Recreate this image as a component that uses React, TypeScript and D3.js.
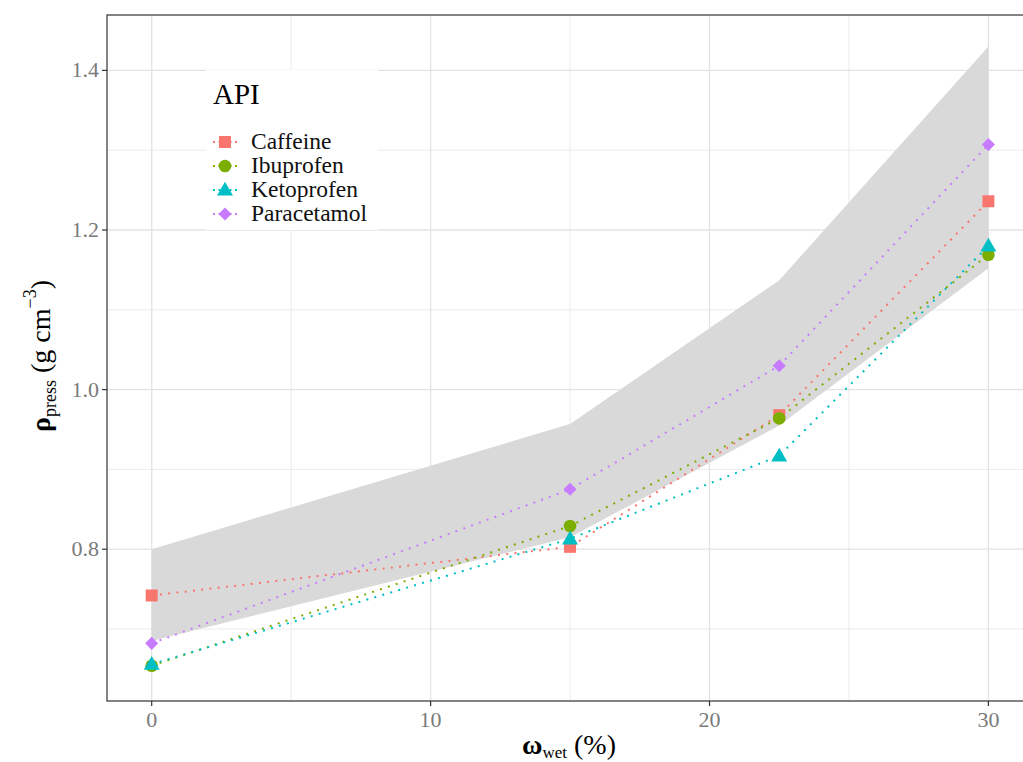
import React from "react";
import * as d3 from "d3";

const apis = ["Caffeine", "Ibuprofen", "Ketoprofen", "Paracetamol"];
const colors = ["#F8766D", "#7CAE00", "#00BFC4", "#C77CFF"];
const wet = [0, 15, 22.5, 30];
const caffeine = [0.742, 0.803, 0.968, 1.236];
const ibuprofen = [0.654, 0.829, 0.964, 1.169];
const ketoprofen = [0.656, 0.813, 0.917, 1.180];
const paracetamol = [0.682, 0.875, 1.030, 1.307];
const ribbonUpper = [0.800, 0.957, 1.137, 1.430];
const ribbonLower = [0.685, 0.815, 0.955, 1.152];
const xTicks = [0, 10, 20, 30];
const xMinor = [5, 15, 25];
const yTicks = [0.8, 1.0, 1.2, 1.4];
const yMinor = [0.7, 0.9, 1.1, 1.3];

const seriesValues = [caffeine, ibuprofen, ketoprofen, paracetamol];

const W = 1023;
const H = 762;
const left = 107;
const top = 15;
const bottom = 701;
const right = 1030;

const x = d3.scaleLinear().domain([0, 30]).range([151.7, 988.4]);
const y = d3.scaleLinear().domain([0.8, 1.2]).range([549.2, 230.0]);

const FONT = "'Liberation Serif', 'DejaVu Serif', serif";

function shapePath(i: number): { d: string; rot: number } {
  if (i === 0) return { d: d3.symbol().type(d3.symbolSquare).size(144)()!, rot: 0 };
  if (i === 1) return { d: d3.symbol().type(d3.symbolCircle).size(125)()!, rot: 0 };
  if (i === 2) return { d: d3.symbol().type(d3.symbolTriangle).size(110)()!, rot: 0 };
  return { d: d3.symbol().type(d3.symbolSquare).size(85)()!, rot: 45 };
}

export default function App() {
  const area = d3
    .area<number>()
    .x((_, i) => x(wet[i]))
    .y0((_, i) => y(ribbonLower[i]))
    .y1((d) => y(d));
  const line = d3
    .line<number>()
    .x((_, i) => x(wet[i]))
    .y((d) => y(d));

  const legendY = [142, 166, 190, 214];

  return (
    <svg
      width={W}
      height={H}
      style={{ position: "absolute", left: 0, top: 0, background: "#fff" }}
    >
      <defs>
        <clipPath id="panel">
          <rect x={left} y={top} width={right - left} height={bottom - top} />
        </clipPath>
      </defs>
      <rect x={0} y={0} width={W} height={H} fill="#fff" />
      {/* grid */}
      <g clipPath="url(#panel)">
        {yMinor.map((v) => (
          <line key={"ym" + v} x1={left} x2={right} y1={y(v)} y2={y(v)} stroke="#ebebeb" strokeWidth={1} />
        ))}
        {xMinor.map((v) => (
          <line key={"xm" + v} x1={x(v)} x2={x(v)} y1={top} y2={bottom} stroke="#ebebeb" strokeWidth={1} />
        ))}
        {yTicks.map((v) => (
          <line key={"y" + v} x1={left} x2={right} y1={y(v)} y2={y(v)} stroke="#e3e3e3" strokeWidth={1.3} />
        ))}
        {xTicks.map((v) => (
          <line key={"x" + v} x1={x(v)} x2={x(v)} y1={top} y2={bottom} stroke="#e3e3e3" strokeWidth={1.3} />
        ))}
        <path d={area(ribbonUpper)!} fill="#d9d9d9" />
        {seriesValues.map((vals, i) => (
          <path
            key={"l" + i}
            d={line(vals)!}
            fill="none"
            stroke={colors[i]}
            strokeWidth={2}
            strokeDasharray="2 6.3"
          />
        ))}
        {seriesValues.map((vals, i) => {
          const s = shapePath(i);
          return vals.map((v, j) => (
            <path
              key={"p" + i + "-" + j}
              d={s.d}
              transform={`translate(${x(wet[j])},${y(v) + (i === 2 ? 1 : 0)}) rotate(${s.rot})`}
              fill={colors[i]}
            />
          ));
        })}
      </g>
      {/* legend */}
      <rect x={206} y={70} width={172} height={160} fill="#fff" />
      <text x={213} y={104} fontFamily={FONT} fontSize={29} fill="#000">API</text>
      {apis.map((name, i) => {
        const s = shapePath(i);
        return (
          <g key={"lg" + i}>
            <line x1={213} x2={237} y1={legendY[i]} y2={legendY[i]} stroke={colors[i]} strokeWidth={2} strokeDasharray="2 3.5" />
            <path d={s.d} transform={`translate(225,${legendY[i] + (i === 2 ? 1 : 0)}) rotate(${s.rot})`} fill={colors[i]} />
            <text x={251} y={legendY[i] + 7} fontFamily={FONT} fontSize={23.5} fill="#111">{name}</text>
          </g>
        );
      })}
      {/* panel border */}
      <rect x={left} y={top} width={right - left} height={bottom - top} fill="none" stroke="#333" strokeWidth={1.2} />
      {/* axes ticks */}
      {yTicks.map((v) => (
        <g key={"yt" + v}>
          <line x1={102} x2={left} y1={y(v)} y2={y(v)} stroke="#333" strokeWidth={1.2} />
          <text x={99} y={y(v) + 7} textAnchor="end" fontFamily={FONT} fontSize={22} fill="#7a7a7a">{v.toFixed(1)}</text>
        </g>
      ))}
      {xTicks.map((v) => (
        <g key={"xt" + v}>
          <line x1={x(v)} x2={x(v)} y1={bottom} y2={bottom + 5} stroke="#333" strokeWidth={1.2} />
          <text x={x(v)} y={727} textAnchor="middle" fontFamily={FONT} fontSize={22} fill="#7a7a7a">{v}</text>
        </g>
      ))}
      {/* x title */}
      <text x={569} y={754} textAnchor="middle" fontFamily={FONT} fontSize={28} fill="#000">
        <tspan fontWeight="bold">ω</tspan>
        <tspan fontSize={17} dy={4}>wet</tspan>
        <tspan dy={-4}> (%)</tspan>
      </text>
      {/* y title */}
      <text
        transform="translate(50,356) rotate(-90)"
        textAnchor="middle"
        fontFamily={FONT}
        fontSize={28}
        fill="#000"
      >
        <tspan fontWeight="bold">ρ</tspan>
        <tspan fontSize={18} dy={6}>press</tspan>
        <tspan dy={-6}> (g cm</tspan>
        <tspan fontSize={18} dy={-14}>−3</tspan>
        <tspan dy={14}>)</tspan>
      </text>
    </svg>
  );
}
